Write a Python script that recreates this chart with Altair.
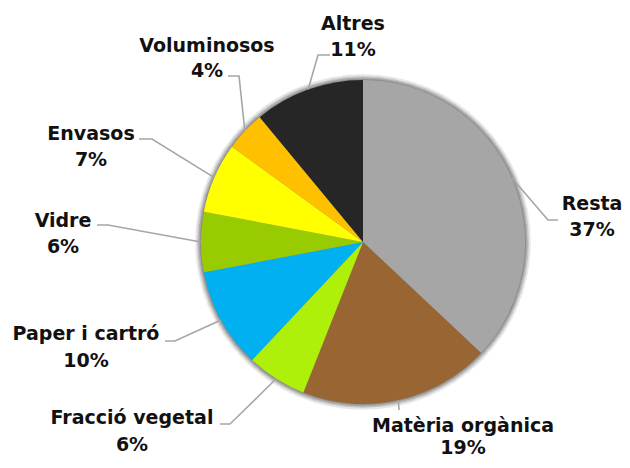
import math
import altair as alt
import pandas as pd

# ---- data ----
categories = ["Resta", "Matèria orgànica", "Fracció vegetal", "Paper i cartró",
              "Vidre", "Envasos", "Voluminosos", "Altres"]
values = [37, 19, 6, 10, 6, 7, 4, 11]
colors = ["#a6a6a6", "#996633", "#aef00a", "#00b0f0",
          "#99cc00", "#ffff00", "#ffc000", "#262626"]

# ---- layout (page pixel coordinates) ----
W, H, M = 630, 468, 8
CX, CY, R = 363, 242, 162
# label centre x, first-line baseline y, second-line baseline y
label_pos = {
    "Resta": (592, 210, 236),
    "Matèria orgànica": (463, 432, 454),
    "Fracció vegetal": (132, 424, 451),
    "Paper i cartró": (86, 340, 367),
    "Vidre": (63, 227, 253),
    "Envasos": (91, 140, 166),
    "Voluminosos": (207, 52, 77),
    "Altres": (353, 30, 56),
}
# leader: stub end at label, elbow point
leader_stub = {
    "Resta": ((558, 220), (548, 220)),
    "Matèria orgànica": ((399, 410), (399, 410)),
    "Fracció vegetal": ((220, 424), (230, 424)),
    "Paper i cartró": ((165, 341), (175, 341)),
    "Vidre": ((97, 225), (108, 225)),
    "Envasos": ((139, 139), (152, 139)),
    "Voluminosos": ((228, 76), (239, 76)),
    "Altres": ((330, 55), (318, 55)),
}

total = sum(values)
pie = pd.DataFrame({"cat": categories, "value": values, "color": colors,
                    "idx": list(range(len(categories)))})

labels_rows, line_rows = [], []
cum = 0
for c, v in zip(categories, values):
    lx, ly1, ly2 = label_pos[c]
    labels_rows.append({"cat": c, "name": c, "pct": f"{round(100 * v / total)}%",
                        "x": lx, "y1": ly1, "y2": ly2})
    a = (cum + 0.5 * v) / total * 2 * math.pi
    ex, ey = CX + R * math.sin(a), CY - R * math.cos(a)
    (sx, sy), (bx, by) = leader_stub[c]
    for i, (px, py) in enumerate([(ex, ey), (bx, by), (sx, sy)]):
        line_rows.append({"cat": c, "o": i, "x": px, "y": py})
    cum += v
labels = pd.DataFrame(labels_rows)
lines = pd.DataFrame(line_rows)

xs = alt.Scale(domain=[M, W - M], range=[0, W - 2 * M])
ys = alt.Scale(domain=[M, H - M], range=[0, H - 2 * M])

center = dict(x=alt.value(CX - M), y=alt.value(CY - M))

shadow = alt.layer(*[
    alt.Chart(pie).mark_arc(radius=R + k, theta=0, theta2=2 * math.pi,
                            color="#000000", opacity=op).encode(**center)
    for k, op in [(6, 0.012), (4, 0.015), (2.5, 0.018), (1, 0.02)]
])

slices = alt.Chart(pie).mark_arc(radius=R, stroke=None).encode(
    theta=alt.Theta("value:Q", stack=True),
    order=alt.Order("idx:Q"),
    color=alt.Color("color:N", scale=None),
    **center,
)

leaders = alt.Chart(lines).mark_line(color="#a6a6a6", strokeWidth=1.6).encode(
    x=alt.X("x:Q", scale=xs, axis=None),
    y=alt.Y("y:Q", scale=ys, axis=None),
    detail="cat:N",
    order="o:Q",
)

text_style = dict(font="DejaVu Sans", fontSize=19, fontWeight="bold",
                  color="#111111", align="center", baseline="alphabetic")
names = alt.Chart(labels).mark_text(**text_style).encode(
    x=alt.X("x:Q", scale=xs, axis=None),
    y=alt.Y("y1:Q", scale=ys, axis=None),
    text="name:N",
)
pcts = alt.Chart(labels).mark_text(**text_style).encode(
    x=alt.X("x:Q", scale=xs, axis=None),
    y=alt.Y("y2:Q", scale=ys, axis=None),
    text="pct:N",
)

chart = alt.layer(shadow, slices, leaders, names, pcts).properties(
    width=W - 2 * M, height=H - 2 * M, padding=0, autosize="none",
    background="white",
).configure_view(stroke=None)

chart.save("out.html", embed_options={"renderer": "svg", "actions": False})
